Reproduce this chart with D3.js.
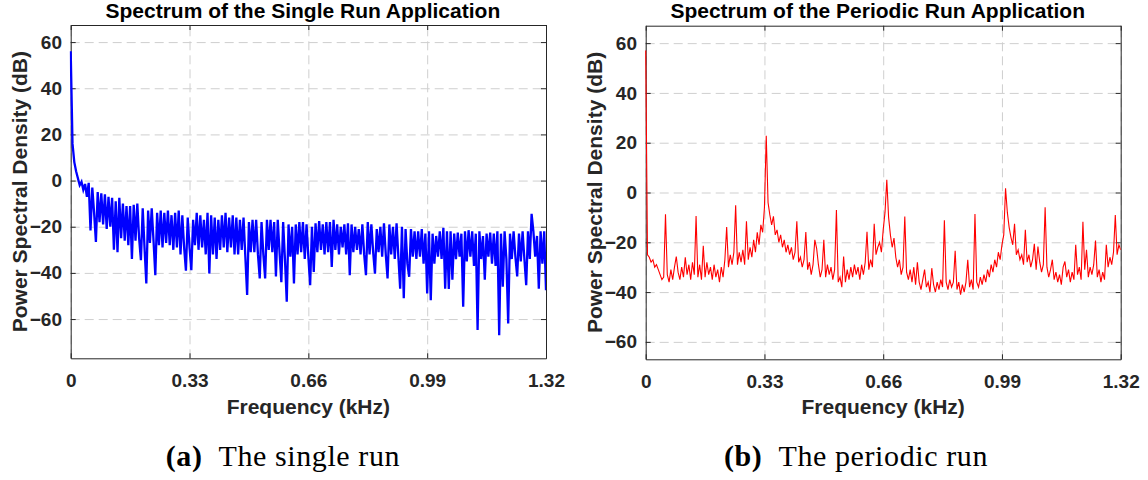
<!DOCTYPE html>
<html>
<head>
<meta charset="utf-8">
<script src="https://d3js.org/d3.v7.min.js"></script>
<style>
  body { margin: 0; background: #fff; }
  svg text { font-family: "Liberation Sans", Arial, sans-serif; }
  .axis .tick text { font-size: 19px; font-weight: bold; fill: #262626; }
  .axis path, .axis line { stroke: #262626; stroke-width: 1; }
  .grid line { stroke: #cfcfcf; stroke-width: 1; stroke-dasharray: 9, 5; }
  .grid path { display: none; }
  text.label { font-size: 21px; font-weight: bold; fill: #262626; text-anchor: middle; }
  text.title { font-size: 21px; font-weight: bold; fill: #000; text-anchor: middle; }
  text.caption { font-family: "Liberation Serif", "Times New Roman", serif; font-size: 30px; fill: #000; letter-spacing: 0.6px; }
</style>
</head>
<body>
<svg id="chart" width="1148" height="480"></svg>
<script>
// readings every 5 Hz (0.005 kHz), 0 .. 1.32 kHz
const freqStep = 0.005;
const xTicks = [0, 0.33, 0.66, 0.99, 1.32];
const xTickLabels = ["0", "0.33", "0.66", "0.99", "1.32"];
const yTicks = [-60, -40, -20, 0, 20, 40, 60];

// PSD (dB) of the single run
const singleRun = [
  56, 16, 8, 4, 1, -2, -0.5, -4, -1.5, -7,
  -1, -21.6, -3, -14, -26.6, -5, -18, -5.5, -19, -6,
  -21, -7, -20, -7.5, -30, -9, -31, -7.5, -25, -10,
  -26, -11, -28, -11, -34, -10.5, -26, -10, -25, -34.5,
  -12, -29, -44.6, -13, -27, -12, -26, -41, -14, -28,
  -13, -29, -14, -27, -13, -28, -15, -30, -14, -29,
  -13, -32, -15, -29, -39, -16, -29, -38.8, -17, -28,
  -14, -30, -15, -29, -17, -32, -14, -40.3, -15, -32,
  -16, -34, -17, -30, -15, -29, -14, -31, -16, -29,
  -15, -32, -16, -32, -17, -30, -16, -33, -49.6, -18,
  -31, -17, -31, -17, -32, -42.4, -18, -32, -42.4, -17,
  -30, -17, -31, -18, -41.5, -17, -31, -44, -18, -34,
  -52.5, -19, -33, -20, -44.6, -19, -32, -18, -31, -18,
  -34, -19, -33, -45.3, -20, -39.6, -18.5, -31, -17.5, -30,
  -19, -32, -18, -31, -18, -37.4, -17, -30, -19, -32,
  -20, -29, -19, -32, -18.5, -41, -19, -31, -20, -30,
  -21, -32, -19, -32, -41, -18, -32, -19, -31, -40.3,
  -21, -31, -20, -33, -18.5, -32, -42.4, -19, -32, -20,
  -34, -18.5, -33, -46.8, -20, -51, -21, -36, -41.7, -21,
  -33, -22, -34, -22, -33, -21, -36, -23, -48.9, -22,
  -51.8, -23, -36, -24, -33, -22, -34, -20.5, -46.8, -22,
  -47, -22, -43, -23, -34, -22.5, -33, -23, -54.7, -22,
  -35, -21.5, -33, -22, -37, -23, -64.7, -22, -34, -24,
  -43, -23, -33, -22.5, -36, -23, -37, -22, -67, -23,
  -46, -22, -34, -61.9, -23, -34, -22, -33, -41.5, -23,
  -35, -22, -34, -45.3, -22, -34, -14.4, -22, -33, -24,
  -46.8, -22, -36, -22, -47.5
];

// PSD (dB) of the periodic run
const periodicRun = [
  57, -25, -26, -28, -27, -30, -29, -31, -33, -35,
  -34, -8.7, -33, -36, -31, -35, -30, -25.7, -32, -35,
  -30, -34, -26, -33, -29, -35, -28, -33, -9.4, -34,
  -29, -35, -21.4, -34, -28, -33, -30, -35, -29, -34,
  -31, -36, -30, -34, -27, -13.9, -30, -25, -29, -24,
  -5.1, -29, -24, -28, -23, -29, -11.6, -27, -22, -26,
  -19, -24, -16, -21, -13, -16, -6, 22.8, -4, -9,
  -13, -9.6, -17, -15, -20, -17, -22, -19, -24, -21,
  -25, -22, -27, -24, -11.6, -28, -26, -30, -27, -15.9,
  -31, -28, -33, -29, -19, -22.4, -29, -34, -31, -19,
  -34, -29, -33, -30, -35, -31, -7, -36, -34, -38,
  -25.7, -36, -31, -35, -30, -34, -29, -33, -30, -35,
  -29, -33, -28, -15.8, -31, -27, -30, -12.6, -25, -22,
  -20, -24, -15, -8, 5.1, -10, -17, -22, -18.3, -26,
  -30, -27, -33, -30, -9.6, -32, -35, -31, -36, -30,
  -37, -28, -36, -39, -35, -31, -38, -36, -40, -30.4,
  -37, -40, -36, -39, -35, -38, -11.2, -36, -39, -35,
  -38, -36, -23.4, -39, -36, -41, -37, -40, -36, -27,
  -38, -35, -39, -8.6, -36, -38, -34, -37, -33, -36,
  -31, -34, -29, -32, -27, -30, -24, -27, -21, -17,
  1.7, -8, -14, -18, -21, -12.6, -25, -23, -27, -25,
  -29, -15, -28, -25, -30, -27, -20.6, -31, -21.7, -28,
  -32, -29, -5.9, -30, -34, -31, -27, -35, -32, -36,
  -33, -37, -30, -27.7, -34, -31, -36, -32, -35, -21,
  -33, -30, -35, -11.8, -31, -23, -34, -30, -33, -29,
  -19.3, -34, -31, -36, -32, -35, -21, -30, -26, -29,
  -24, -9, -25, -21, -23
];

const svg = d3.select("#chart");

const panels = [
  {
    id: "a", data: singleRun, color: "#0000ff", width: 2.3,
    left: 70.7, right: 546, top: 25, bottom: 358.3, yDomain: [-77, 67.4],
    title: "Spectrum of the Single Run Application",
    capTag: "(a)", capText: "The single run", capX: 165.7
  },
  {
    id: "b", data: periodicRun, color: "#ff0000", width: 1.1,
    left: 645.7, right: 1120.7, top: 25.7, bottom: 359.3, yDomain: [-67, 67],
    title: "Spectrum of the Periodic Run Application",
    capTag: "(b)", capText: "The periodic run", capX: 724
  }
];

panels.forEach((p) => {
  const x = d3.scaleLinear().domain([0, 1.32]).range([p.left, p.right]);
  const y = d3.scaleLinear().domain(p.yDomain).range([p.bottom, p.top]);
  const w = p.right - p.left;
  const h = p.bottom - p.top;
  const g = svg.append("g");

  // dashed grid
  g.append("g")
    .attr("class", "grid")
    .attr("transform", `translate(0,${p.bottom})`)
    .call(d3.axisBottom(x).tickValues(xTicks).tickSize(-h).tickFormat(""));
  g.append("g")
    .attr("class", "grid")
    .attr("transform", `translate(${p.left},0)`)
    .call(d3.axisLeft(y).tickValues(yTicks).tickSize(-w).tickFormat(""));

  // box with inward ticks
  g.append("g")
    .attr("class", "axis")
    .attr("transform", `translate(0,${p.bottom})`)
    .call(
      d3.axisBottom(x).tickValues(xTicks).tickSizeInner(-5).tickSizeOuter(0)
        .tickPadding(15).tickFormat((d, i) => xTickLabels[i])
    );
  g.append("g")
    .attr("class", "axis")
    .attr("transform", `translate(${p.left},0)`)
    .call(d3.axisLeft(y).tickValues(yTicks).tickSizeInner(-5).tickSizeOuter(0).tickPadding(8.7));
  g.append("g")
    .attr("class", "axis")
    .attr("transform", `translate(0,${p.top})`)
    .call(d3.axisTop(x).tickValues(xTicks).tickSizeInner(-5).tickSizeOuter(0).tickFormat(""));
  g.append("g")
    .attr("class", "axis")
    .attr("transform", `translate(${p.right},0)`)
    .call(d3.axisRight(y).tickValues(yTicks).tickSizeInner(-5).tickSizeOuter(0).tickFormat(""));

  // spectrum line
  svg.append("clipPath")
    .attr("id", "clip-" + p.id)
    .append("rect")
    .attr("x", p.left - 1).attr("y", p.top)
    .attr("width", w + 1).attr("height", h);

  const line = d3.line()
    .x((d, i) => x(i * freqStep))
    .y((d) => y(d));

  g.append("path")
    .datum(p.data)
    .attr("clip-path", `url(#clip-${p.id})`)
    .attr("fill", "none")
    .attr("stroke", p.color)
    .attr("stroke-width", p.width)
    .attr("stroke-linejoin", "miter")
    .attr("d", line);

  // texts
  g.append("text")
    .attr("class", "title")
    .attr("x", (p.left + p.right) / 2 - 5.5)
    .attr("y", 18)
    .text(p.title);
  g.append("text")
    .attr("class", "label")
    .attr("x", (p.left + p.right) / 2)
    .attr("y", 414)
    .text("Frequency (kHz)");
  g.append("text")
    .attr("class", "label")
    .attr("transform", `translate(${p.left - 43.5},${(p.top + p.bottom) / 2}) rotate(-90)`)
    .text("Power Spectral Density (dB)");

  const cap = g.append("text")
    .attr("class", "caption")
    .attr("x", p.capX)
    .attr("y", 466);
  cap.append("tspan").attr("font-weight", "bold").text(p.capTag);
  cap.append("tspan").attr("dx", 16).text(p.capText);
});
</script>
</body>
</html>
